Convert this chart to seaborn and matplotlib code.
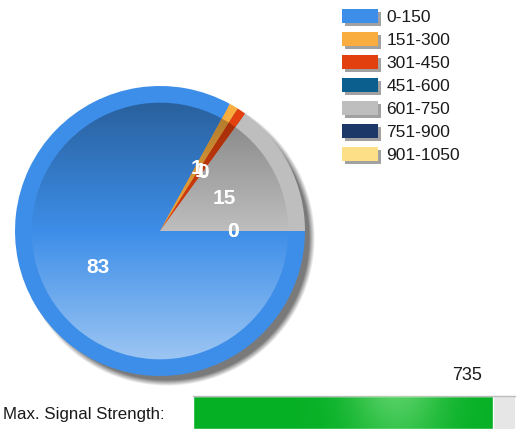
import numpy as np
import matplotlib
matplotlib.use("Agg")
import matplotlib.pyplot as plt
import matplotlib.patheffects as pe
from matplotlib.patches import Wedge, Rectangle
from matplotlib.colors import to_rgb
import seaborn as sns

# signal-strength buckets and how many readings fell into each
ranges = ["0-150", "151-300", "301-450", "451-600", "601-750", "751-900", "901-1050"]
counts = [83, 1, 1, 0, 15, 0, 0]
colors = ["#3d8ee8", "#f9ad3e", "#e2410f", "#0b5f8e", "#bebebe", "#1c3868", "#fddf88"]

# strongest signal seen and the full scale of the meter
signal_value = 735
signal_max = 790

sns.set_theme(style="white")
plt.rcParams["font.family"] = ["Liberation Sans", "DejaVu Sans"]

W, H = 517, 429
fig = plt.figure(figsize=(W / 100, H / 100), dpi=100)
fig.patch.set_facecolor("white")

# ---- pie, laid out in pixel units ----
ax = fig.add_axes([0, 0, 1, 1])
cx, cy, R = 160, 198, 145

# soft drop shadow behind the pie
xs = np.arange(W) + 0.5
ys = np.arange(H) + 0.5
X, Y = np.meshgrid(xs, ys)
d = np.hypot(X - (cx + 7), Y - (cy - 7))
alpha = np.clip((R - d) / 6.0 + 0.5, 0, 1)
shadow = np.zeros((H, W, 4))
shadow[..., :3] = 0.48
shadow[..., 3] = alpha
ax.imshow(shadow, origin="lower", extent=(0, W, 0, H), zorder=0.5, interpolation="bilinear")

total = sum(counts)
wedges, texts, autotexts = ax.pie(
    counts,
    colors=colors,
    startangle=0,
    counterclock=False,
    center=(cx, cy),
    radius=R,
    autopct=lambda p: f"{p * total / 100:.0f}",
    pctdistance=0.5,
    textprops=dict(color="white", fontsize=15, fontweight="bold"),
    wedgeprops=dict(linewidth=0),
)

# shaded inner disc: darker toward the top, lighter toward the bottom
N = 256
t = 1 - np.linspace(0, 1, N)  # 0 at top, 1 at bottom (rows go bottom -> top)
for w, c in zip(wedges, colors):
    if abs(w.theta2 - w.theta1) < 1e-6:
        continue
    base = np.array(to_rgb(c))
    grad = np.zeros((N, 1, 4))
    for i, ti in enumerate(t):
        if ti < 0.5:
            col = base * (0.64 + 0.36 * (ti / 0.5))
        else:
            col = base + (1 - base) * 0.55 * ((ti - 0.5) / 0.5)
        grad[i, 0, :3] = col
        grad[i, 0, 3] = 1
    inner = Wedge((cx, cy), R * 0.885, w.theta1, w.theta2, transform=ax.transData)
    im = ax.imshow(grad, origin="lower", extent=(cx - R, cx + R, cy - R, cy + R),
                   aspect="auto", zorder=1.5, interpolation="bilinear")
    im.set_clip_path(inner)

for txt in autotexts:
    txt.set_zorder(4)

ax.set_xlim(0, W)
ax.set_ylim(0, H)
ax.axis("off")

# ---- legend with shadowed swatches ----
handles = [
    Rectangle((0, 0), 1, 1, facecolor=c, edgecolor="none",
              path_effects=[pe.SimplePatchShadow(offset=(2.2, -2.2), shadow_rgbFace="#555555", alpha=0.55),
                            pe.Normal()])
    for c in colors
]
fig.legend(handles, ranges, loc="upper left", bbox_to_anchor=(342 / W, 1 - 9 / H),
           frameon=False, fontsize=12.5, handlelength=2.05, handleheight=0.85,
           handletextpad=0.5, labelspacing=0.41, borderpad=0, borderaxespad=0,
           labelcolor="#1a1a1a")

# ---- maximum signal strength meter ----
bax = fig.add_axes([193 / W, 0, 322 / W, 33 / H])
bax.set_facecolor("#e6e6e6")
sns.barplot(x=[signal_value], y=["max"], orient="h", color="#06b025", width=1.0,
            saturation=1, ax=bax)
bax.set_xlim(0, signal_max)
bax.set_ylim(0.5, -0.5)
bax.set_xticks([])
bax.set_yticks([])
bax.set_xlabel("")
bax.set_ylabel("")
for side in ["left", "right", "bottom"]:
    bax.spines[side].set_visible(False)
bax.spines["top"].set_color("#bcbcbc")
bax.spines["top"].set_linewidth(1)

# moving glow on the meter fill
bar = bax.patches[0]
gx = np.linspace(0, signal_max, 400)
gy = np.linspace(-0.5, 0.5, 40)
GX, GY = np.meshgrid(gx, gy)
glow = np.zeros((40, 400, 4))
glow[..., :3] = to_rgb("#a4f0a4")
glow[..., 3] = 0.5 * np.exp(-((GX - 500) / 120.0) ** 2) * (1 - 0.35 * (GY + 0.5))
gim = bax.imshow(glow, extent=(0, signal_max, 0.5, -0.5), aspect="auto", zorder=3,
                 interpolation="bilinear")
gim.set_clip_path(bar)
bax.set_xlim(0, signal_max)
bax.set_ylim(0.5, -0.5)

fig.text(3 / W, 14 / H, "Max. Signal Strength:", fontsize=12.2, color="#1a1a1a",
         ha="left", va="center")
fig.text(467 / W, 54 / H, f"{signal_value}", fontsize=13, color="#1a1a1a",
         ha="center", va="center")

fig.savefig("out.png", dpi=100, facecolor="white")
